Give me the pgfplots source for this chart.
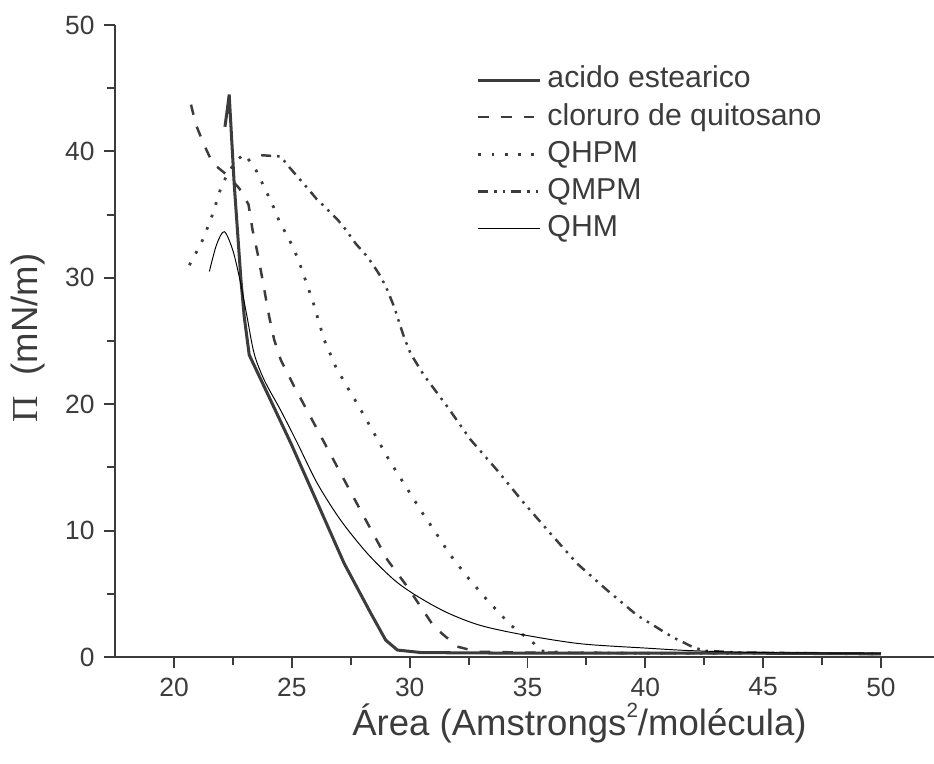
\documentclass[border=0pt]{standalone}
\usepackage{fontspec}
\setmainfont{Liberation Sans}
\newfontfamily\serifgr{Liberation Serif}
\usepackage{pgfplots}
\pgfplotsset{compat=1.18}
\definecolor{ink}{HTML}{3C3C3C}
\definecolor{thin}{HTML}{5A5A5A}

\begin{document}
\begin{tikzpicture}
\begin{axis}[
    scale only axis,
    width=298pt, height=230pt,
    xmin=17.5, xmax=52.25,
    ymin=0, ymax=50,
    axis x line=bottom, axis y line=left,
    axis line style={-, ink, line width=0.8pt},
    xtick={20,25,...,50}, ytick={0,10,...,50},
    minor x tick num=1, minor y tick num=1,
    tick align=outside,
    major tick length=4pt, minor tick length=3pt,
    every tick/.style={ink, line width=0.7pt},
    tick label style={font=\fontsize{9.6}{11}\selectfont, text=ink},
    /pgf/number format/assume math mode=true,
    xlabel={Área (Amstrongs{\raisebox{0.5em}{\fontsize{7.5}{8}\selectfont 2}}/molécula)},
    ylabel={{\serifgr Π}\ \ (mN/m)},
    label style={font=\fontsize{13.3}{15}\selectfont, text=ink},
    xlabel style={at={(axis description cs:0.567,-0.104)}, anchor=center},
    ylabel style={at={(axis description cs:-0.1064,0.505)}, anchor=center},
    legend style={at={(axis description cs:0.431,0.95)}, anchor=north west,
        draw=none, fill=none, font=\fontsize{11}{13}\selectfont, text=ink,
        row sep=0.8pt,
        nodes={inner ysep=1.2pt, text height=8pt, text depth=2.3pt}},
    legend cell align=left,
    legend image code/.code={\draw[#1] (0pt,0pt) -- (22.6pt,0pt);},
]

% acido estearico
\addplot[ink, line width=1.1pt] coordinates {
    (22.16,41.95) (22.28,43.6) (22.34,44.5) (22.55,37.5) (22.84,29.8)
    (22.98,26.9) (23.19,23.9) (23.76,21.65) (24.96,16.9) (26.09,12.16)
    (27.22,7.4) (28.35,3.46) (28.98,1.34) (29.48,0.55) (30.5,0.35)
    (35,0.3) (40,0.3) (45,0.3) (50,0.25)
};

% cloruro de quitosano
\addplot[ink, line width=0.9pt, dash pattern=on 3.8pt off 4.5pt] coordinates {
    (20.72,43.7) (20.93,42.1) (21.28,40.5) (21.64,39.06) (22.27,38.1)
    (22.77,37.07) (23.16,35.8) (23.33,33.8) (23.55,31.9) (23.69,30.5)
    (24.04,26.9) (24.25,25.1) (24.53,23.5) (25.1,21.4) (26.09,17.96)
    (27.08,14.5) (28.06,11.1) (29.06,7.67) (29.9,5.56) (31.03,2.4)
    (32.02,0.82) (32.87,0.42) (35,0.35) (40,0.3) (45,0.3) (50,0.25)
};

% QHPM
\addplot[ink, line width=1pt, dash pattern=on 1pt off 3.8pt] coordinates {
    (20.65,31.0) (20.96,32.07) (21.24,33.1) (21.47,34.2) (21.67,35.2)
    (21.85,36.3) (22.02,37.3) (22.3,38.3) (22.6,39.2) (22.98,39.8)
    (23.43,38.7) (23.69,37.7) (23.97,36.6) (24.22,35.6) (24.46,34.5)
    (24.75,33.5) (25.03,32.5) (25.28,31.4) (25.88,28.2) (26.37,25.1)
    (26.86,22.97) (27.4,21.2) (27.85,19.8) (28.49,17.7) (29.12,15.6)
    (29.83,13.5) (30.54,11.4) (31.31,9.26) (31.67,8.2) (32.44,6.35)
    (33.29,4.5) (34.28,2.53) (35.27,1.08) (35.5,0.5) (36.5,0.35)
    (40,0.3) (45,0.3) (50,0.25)
};

% QMPM
\addplot[ink, line width=0.9pt,
    dash pattern=on 3.6pt off 2.2pt on 0.9pt off 2.2pt on 0.9pt off 2.2pt] coordinates {
    (23.7,39.7) (24.53,39.6) (24.82,38.9) (25.24,38.0) (25.66,37.1)
    (26.02,36.3) (26.51,35.4) (26.94,34.6) (27.29,33.8) (27.71,32.7)
    (28.14,31.8) (28.42,31.1) (28.77,30.1) (29.06,29.0) (29.34,27.7)
    (29.55,26.5) (29.76,25.3) (30.04,24.0) (30.6,22.3) (31.6,19.8)
    (32.58,17.2) (33.7,14.8) (34.84,12.2) (35.97,9.78) (37.1,7.4)
    (38.37,5.3) (39.65,3.3) (41.13,1.6) (42.0,0.8) (42.5,0.5)
    (44,0.35) (47,0.3) (50,0.25)
};

% QHM
\addplot[thin, line width=0.35pt, smooth, tension=0.5] coordinates {
    (21.5,30.5) (21.8,32.6) (22.13,33.65) (22.49,32.2) (22.8,29.8)
    (23.1,26.9) (23.4,24.0) (23.83,21.9) (24.53,19.5) (25.24,16.9)
    (26.09,13.7) (27.08,10.8) (28.2,8.2) (29.34,6.1) (30.33,4.8)
    (31.6,3.5) (33,2.5) (34.84,1.75) (37.25,1.05) (40.07,0.7)
    (42,0.5) (45,0.35) (50,0.3)
};

\legend{acido estearico, cloruro de quitosano, QHPM, QMPM, QHM}
\end{axis}
\pgfresetboundingbox
\path[use as bounding box] ([xshift=-41.9pt, yshift=-38.9pt]current axis.south west)
    rectangle ([yshift=9.1pt]current axis.north east);
\end{tikzpicture}
\end{document}
